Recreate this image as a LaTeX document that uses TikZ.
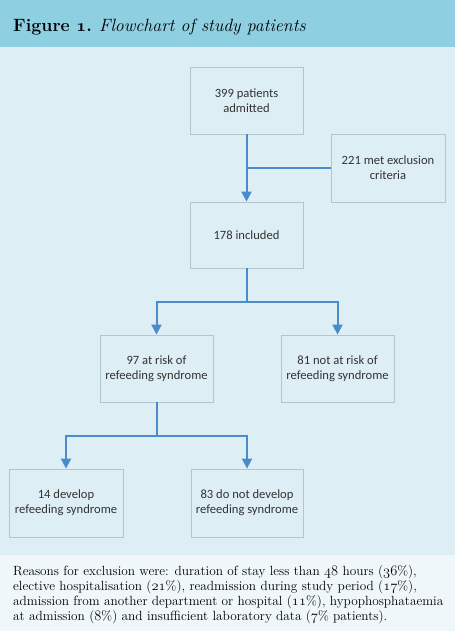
\documentclass[tikz,border=0pt]{standalone}
\usepackage{fontspec}
\usetikzlibrary{arrows.meta,positioning}
\newfontfamily\boxfont{Carlito}
\newcommand{\osn}[1]{{\fontencoding{OML}\fontfamily{cmm}\fontshape{it}\selectfont #1}}
\newcommand{\osnb}[1]{{\fontencoding{OML}\fontfamily{cmm}\fontseries{b}\fontshape{it}\selectfont #1}}
\definecolor{hdr}{HTML}{8ECFE1}
\definecolor{bgmain}{HTML}{DEEEF5}
\definecolor{bgcap}{HTML}{EFF7FA}
\definecolor{boxline}{HTML}{B2C6D0}
\definecolor{arrblue}{HTML}{4A8CCB}
\definecolor{txtgray}{HTML}{333333}
\begin{document}
\begin{tikzpicture}[x=1pt,y=-1pt,
  flowbox/.style={draw=boxline,line width=0.8pt,align=center,inner sep=2pt,
    font=\boxfont\fontsize{12.6}{15}\selectfont,text=txtgray},
  flowline/.style={draw=arrblue,line width=2pt},
  flowarr/.style={flowline,-{Triangle[width=10pt,length=10pt]}}]
\useasboundingbox (0,0) rectangle (455,631);
\fill[hdr] (0,0) rectangle (455,47);
\fill[bgmain] (0,47) rectangle (455,555);
\fill[bgcap] (0,555) rectangle (455,631);
\node[anchor=base west,inner sep=0pt,font=\fontsize{17.8}{20}\selectfont] (title) at (13,32)
  {\textbf{Figure \osnb{1}.} \textit{Flowchart of study patients}};
\node[flowbox,minimum width=113pt,minimum height=67pt] (b1) at (246.5,100.5) {399 patients\\admitted};
\node[flowbox,minimum width=114pt,minimum height=68pt] (b2) at (388,168) {221 met exclusion\\criteria};
\node[flowbox,minimum width=113pt,minimum height=66pt] (b3) at (246.5,235) {178 included};
\node[flowbox,minimum width=113pt,minimum height=67pt] (b4) at (156.5,368.5) {97 at risk of\\refeeding syndrome};
\node[flowbox,minimum width=113pt,minimum height=67pt] (b5) at (337.5,368.5) {81 not at risk of\\refeeding syndrome};
\node[flowbox,minimum width=114pt,minimum height=68pt] (b6) at (66,503) {14 develop\\refeeding syndrome};
\node[flowbox,minimum width=112pt,minimum height=68pt] (b7) at (247,503) {83 do not develop\\refeeding syndrome};
\coordinate (j1) at (246.5,302);
\coordinate (j2) at (156.5,436);
\draw[flowarr] (b1) -- (b3);
\draw[flowline] (b2.west) -- (b2.west -| b1);
\draw[flowline] (b3.south) -- (j1);
\draw[flowarr] (j1) -| (b4.north);
\draw[flowarr] (j1) -| (b5.north);
\draw[flowline] (b4.south) -- (j2);
\draw[flowarr] (j2) -| (b6.north);
\draw[flowarr] (j2) -| (b7.north);
\node[anchor=base west,inner sep=0pt,align=left,font=\fontsize{13.3}{15}\selectfont] (cap) at (13,620)
  {Reasons for exclusion were: duration of stay less than \osn{48} hours (\osn{36}\%),\\
   elective hospitalisation (\osn{21}\%), readmission during study period (\osn{17}\%),\\
   admission from another department or hospital (\osn{11}\%), hypophosphataemia\\
   at admission (\osn{8}\%) and insufficient laboratory data (\osn{7}\% patients).};
\end{tikzpicture}
\end{document}
